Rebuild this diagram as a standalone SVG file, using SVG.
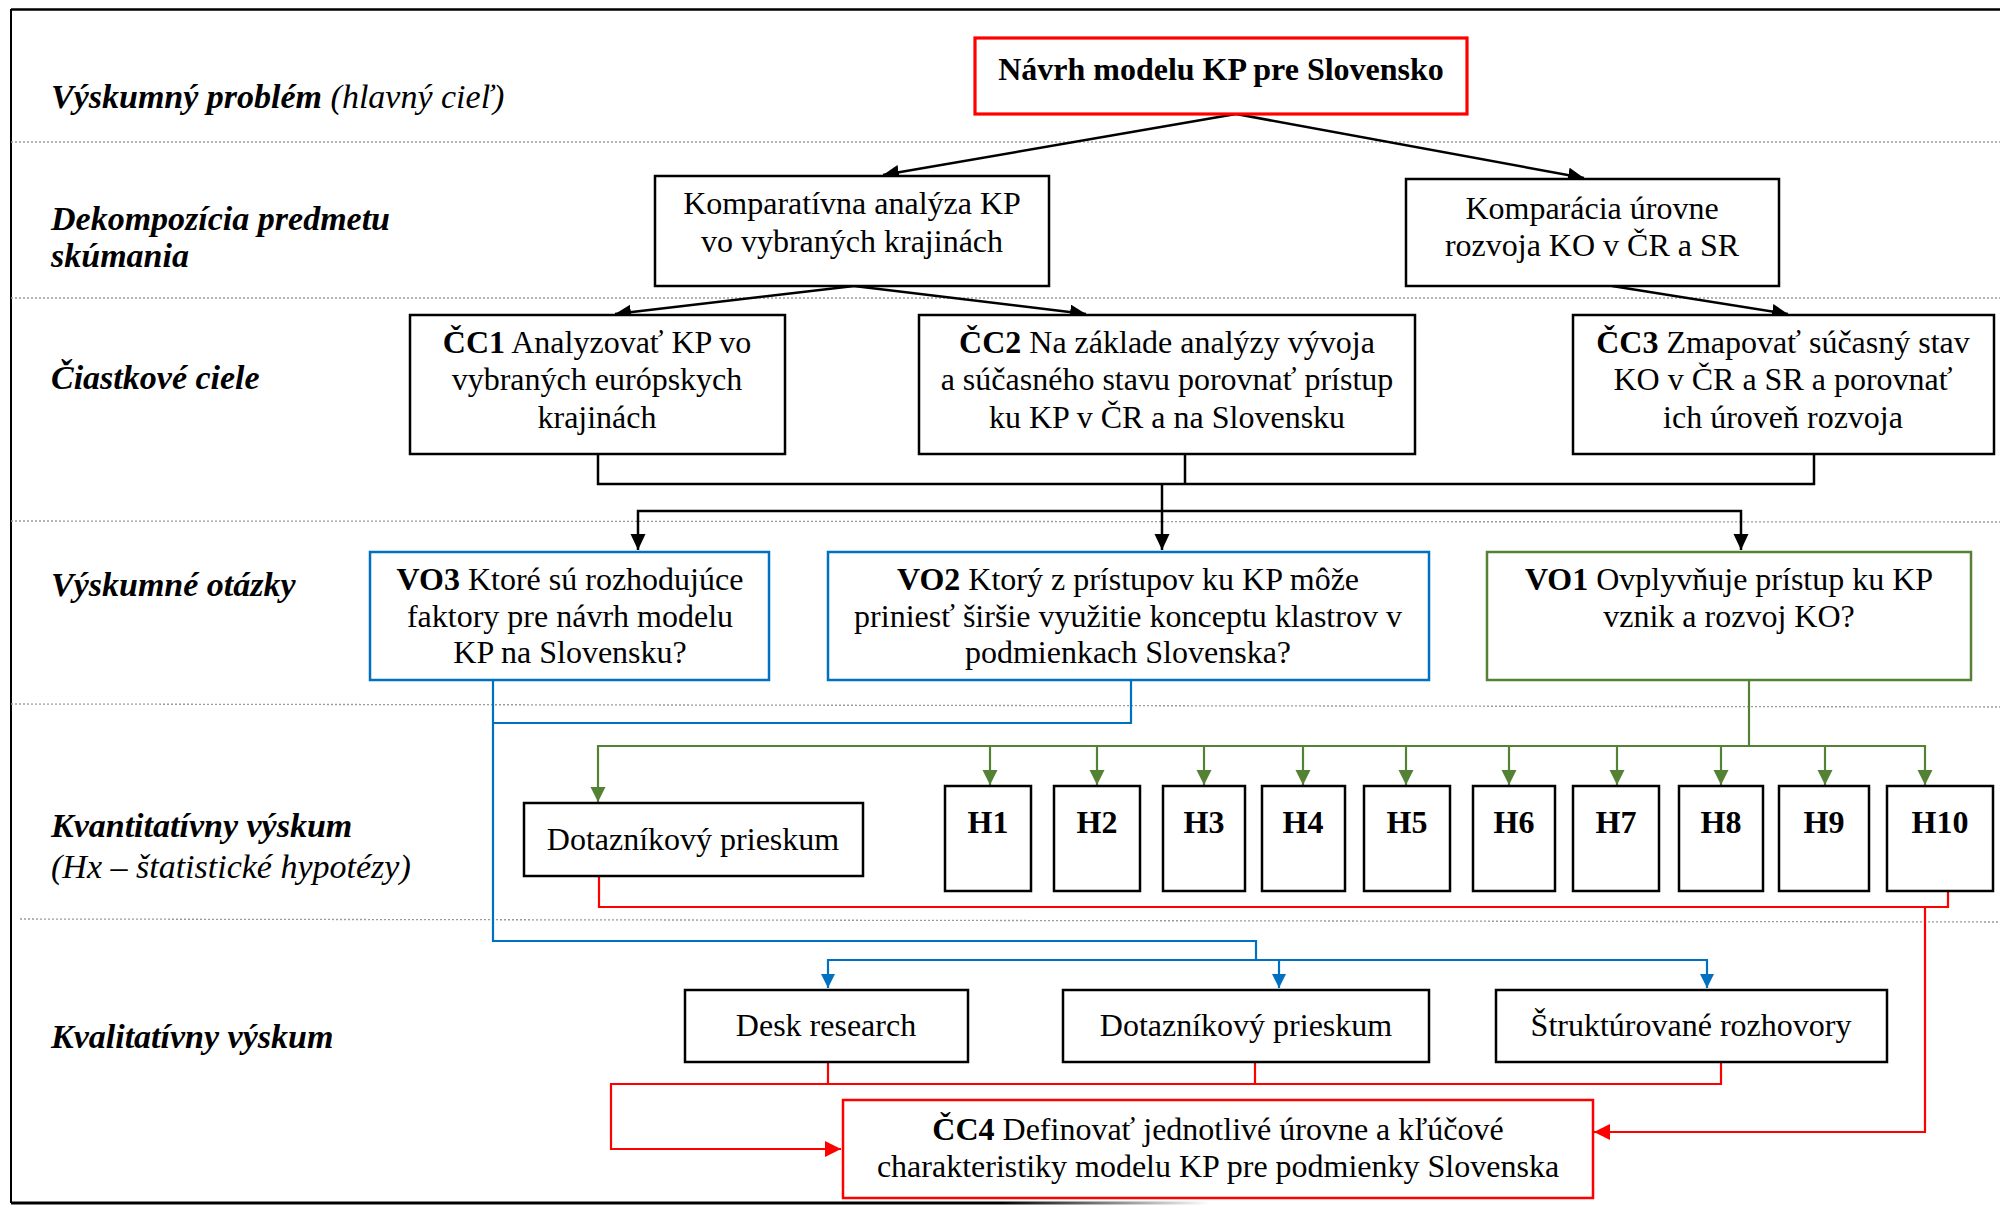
<svg xmlns="http://www.w3.org/2000/svg" width="2000" height="1207" viewBox="0 0 2000 1207">
<style>
text{font-family:"Liberation Serif","Times New Roman",serif;fill:#000}
.bt{font-size:32px;text-anchor:middle}
.lbl{font-size:34px;font-style:italic}
.b{font-weight:bold}
.box{fill:#fff;stroke:#000;stroke-width:2.5}
.rbox{fill:#fff;stroke:#FF0000;stroke-width:2.5}
.bbox{fill:#fff;stroke:#0070C0;stroke-width:2.5}
.gbox{fill:#fff;stroke:#548235;stroke-width:2.5}
.sep{stroke:#9a9a9a;stroke-width:1.3;stroke-dasharray:2 2;fill:none}
.k{stroke:#000;stroke-width:2.5;fill:none}
.bl{stroke:#0070C0;stroke-width:2.2;fill:none}
.gr{stroke:#548235;stroke-width:2.2;fill:none}
.rd{stroke:#FF0000;stroke-width:2.2;fill:none}
</style>
<defs>
<marker id="ak" markerUnits="userSpaceOnUse" markerWidth="18" markerHeight="16" refX="16" refY="7.5" orient="auto"><path d="M0,0 L16,7.5 L0,15 Z" fill="#000"/></marker>
<marker id="ab" markerUnits="userSpaceOnUse" markerWidth="16" markerHeight="16" refX="14" refY="7" orient="auto"><path d="M0,0 L14,7 L0,14 Z" fill="#0070C0"/></marker>
<marker id="ag" markerUnits="userSpaceOnUse" markerWidth="18" markerHeight="16" refX="15" refY="7.5" orient="auto"><path d="M0,0 L15,7.5 L0,15 Z" fill="#548235"/></marker>
<marker id="ar" markerUnits="userSpaceOnUse" markerWidth="18" markerHeight="18" refX="16" refY="8" orient="auto"><path d="M0,0 L16,8 L0,16 Z" fill="#FF0000"/></marker>
<linearGradient id="fade" gradientUnits="userSpaceOnUse" x1="1000" y1="0" x2="1210" y2="0"><stop offset="0" stop-color="#000"/><stop offset="1" stop-color="#000" stop-opacity="0"/></linearGradient>
</defs>
<rect width="2000" height="1207" fill="#fff"/>
<g id="frame">
<line x1="11" y1="9.5" x2="2000" y2="9.5" stroke="#000" stroke-width="2.5"/>
<line x1="11" y1="9" x2="11" y2="1203" stroke="#000" stroke-width="2"/>
<line x1="11" y1="1203" x2="1210" y2="1203" stroke="url(#fade)" stroke-width="3"/>
<line class="sep" x1="11" y1="142" x2="2000" y2="142"/>
<line class="sep" x1="11" y1="298" x2="2000" y2="298"/>
<line class="sep" x1="11" y1="521" x2="2000" y2="522"/>
<line class="sep" x1="11" y1="704" x2="2000" y2="707"/>
<line class="sep" x1="20" y1="919" x2="2000" y2="922"/>
</g>
<g id="labels">
<text class="lbl" x="51" y="108"><tspan class="b">Výskumný problém</tspan> (hlavný cieľ)</text>
<text class="lbl b" x="51" y="230">Dekompozícia predmetu</text>
<text class="lbl b" x="51" y="267">skúmania</text>
<text class="lbl b" x="51" y="389">Čiastkové ciele</text>
<text class="lbl b" x="51" y="596">Výskumné otázky</text>
<text class="lbl b" x="51" y="837">Kvantitatívny výskum</text>
<text class="lbl" x="51" y="878">(Hx – štatistické hypotézy)</text>
<text class="lbl b" x="51" y="1048">Kvalitatívny výskum</text>
</g>
<g id="connectors">
<line class="k" x1="1236" y1="114" x2="883" y2="175" marker-end="url(#ak)"/>
<line class="k" x1="1236" y1="114" x2="1584" y2="178" marker-end="url(#ak)"/>
<line class="k" x1="854" y1="286" x2="615" y2="314" marker-end="url(#ak)"/>
<line class="k" x1="854" y1="286" x2="1086" y2="314" marker-end="url(#ak)"/>
<line class="k" x1="1612" y1="286" x2="1788" y2="314" marker-end="url(#ak)"/>
<path class="k" d="M598,454 V484 H1814 V454 M1185,454 V484"/>
<path class="k" d="M1162,484 V550" marker-end="url(#ak)"/>
<path class="k" d="M1162,511 H638 V550" marker-end="url(#ak)"/>
<path class="k" d="M1162,511 H1741 V550" marker-end="url(#ak)"/>
<path class="bl" d="M1131,680 V723 H493"/>
<path class="bl" d="M493,680 V941 H1256 V960"/>
<path class="bl" d="M1256,960 H828 V988" marker-end="url(#ab)"/>
<path class="bl" d="M1279,960 V988" marker-end="url(#ab)"/>
<path class="bl" d="M1256,960 H1707 V988" marker-end="url(#ab)"/>
<path class="gr" d="M1749,680 V746"/>
<path class="gr" d="M1749,746 H598 V802" marker-end="url(#ag)"/>
<path class="gr" d="M1749,746 H1925 V785" marker-end="url(#ag)"/>
<path class="gr" d="M990,746 V785" marker-end="url(#ag)"/>
<path class="gr" d="M1097,746 V785" marker-end="url(#ag)"/>
<path class="gr" d="M1204,746 V785" marker-end="url(#ag)"/>
<path class="gr" d="M1303,746 V785" marker-end="url(#ag)"/>
<path class="gr" d="M1406,746 V785" marker-end="url(#ag)"/>
<path class="gr" d="M1509,746 V785" marker-end="url(#ag)"/>
<path class="gr" d="M1617,746 V785" marker-end="url(#ag)"/>
<path class="gr" d="M1721,746 V785" marker-end="url(#ag)"/>
<path class="gr" d="M1825,746 V785" marker-end="url(#ag)"/>
<path class="rd" d="M599,876 V907 H1948 V891"/>
<path class="rd" d="M1925,907 V1132 H1594" marker-end="url(#ar)"/>
<path class="rd" d="M828,1062 V1084 M1255,1062 V1084 M1721,1062 V1084 H611 V1149 H841" marker-end="url(#ar)"/>
</g>
<g id="n-title">
<rect x="975" y="38" width="492" height="76" fill="#fff" stroke="#FF0000" stroke-width="3.2"/>
<text class="bt b" x="1221" y="80">Návrh modelu KP pre Slovensko</text>
</g>
<g id="n-komparativna">
<rect class="box" x="655" y="176" width="394" height="110"/>
<text class="bt" x="852" y="214">Komparatívna analýza KP</text>
<text class="bt" x="852" y="252">vo vybraných krajinách</text>
</g>
<g id="n-komparacia">
<rect class="box" x="1406" y="179" width="373" height="107"/>
<text class="bt" x="1592" y="219">Komparácia úrovne</text>
<text class="bt" x="1592" y="256">rozvoja KO v ČR a SR</text>
</g>
<g id="n-cc1">
<rect class="box" x="410" y="315" width="375" height="139"/>
<text class="bt" x="597" y="353"><tspan class="b">ČC1</tspan> Analyzovať KP vo</text>
<text class="bt" x="597" y="390">vybraných európskych</text>
<text class="bt" x="597" y="428">krajinách</text>
</g>
<g id="n-cc2">
<rect class="box" x="919" y="315" width="496" height="139"/>
<text class="bt" x="1167" y="353"><tspan class="b">ČC2</tspan> Na základe analýzy vývoja</text>
<text class="bt" x="1167" y="390">a súčasného stavu porovnať prístup</text>
<text class="bt" x="1167" y="428">ku KP v ČR a na Slovensku</text>
</g>
<g id="n-cc3">
<rect class="box" x="1573" y="315" width="421" height="139"/>
<text class="bt" x="1783" y="353"><tspan class="b">ČC3</tspan> Zmapovať súčasný stav</text>
<text class="bt" x="1783" y="390">KO v ČR a SR a porovnať</text>
<text class="bt" x="1783" y="428">ich úroveň rozvoja</text>
</g>
<g id="n-vo3">
<rect class="bbox" x="370" y="552" width="399" height="128"/>
<text class="bt" x="570" y="590"><tspan class="b">VO3</tspan> Ktoré sú rozhodujúce</text>
<text class="bt" x="570" y="627">faktory pre návrh modelu</text>
<text class="bt" x="570" y="663">KP na Slovensku?</text>
</g>
<g id="n-vo2">
<rect class="bbox" x="828" y="552" width="601" height="128"/>
<text class="bt" x="1128" y="590"><tspan class="b">VO2</tspan> Ktorý z prístupov ku KP môže</text>
<text class="bt" x="1128" y="627">priniesť širšie využitie konceptu klastrov v</text>
<text class="bt" x="1128" y="663">podmienkach Slovenska?</text>
</g>
<g id="n-vo1">
<rect class="gbox" x="1487" y="552" width="484" height="128"/>
<text class="bt" x="1729" y="590"><tspan class="b">VO1</tspan> Ovplyvňuje prístup ku KP</text>
<text class="bt" x="1729" y="627">vznik a rozvoj KO?</text>
</g>
<g id="n-dotaz-kvant">
<rect class="box" x="524" y="803" width="339" height="73"/>
<text class="bt" x="693" y="850">Dotazníkový prieskum</text>
</g>
<g id="n-h1"><rect class="box" x="945" y="786" width="86" height="105"/><text class="bt b" x="988" y="833">H1</text></g>
<g id="n-h2"><rect class="box" x="1054" y="786" width="86" height="105"/><text class="bt b" x="1097" y="833">H2</text></g>
<g id="n-h3"><rect class="box" x="1163" y="786" width="82" height="105"/><text class="bt b" x="1204" y="833">H3</text></g>
<g id="n-h4"><rect class="box" x="1262" y="786" width="83" height="105"/><text class="bt b" x="1303" y="833">H4</text></g>
<g id="n-h5"><rect class="box" x="1364" y="786" width="86" height="105"/><text class="bt b" x="1407" y="833">H5</text></g>
<g id="n-h6"><rect class="box" x="1473" y="786" width="82" height="105"/><text class="bt b" x="1514" y="833">H6</text></g>
<g id="n-h7"><rect class="box" x="1573" y="786" width="86" height="105"/><text class="bt b" x="1616" y="833">H7</text></g>
<g id="n-h8"><rect class="box" x="1679" y="786" width="84" height="105"/><text class="bt b" x="1721" y="833">H8</text></g>
<g id="n-h9"><rect class="box" x="1779" y="786" width="90" height="105"/><text class="bt b" x="1824" y="833">H9</text></g>
<g id="n-h10"><rect class="box" x="1887" y="786" width="106" height="105"/><text class="bt b" x="1940" y="833">H10</text></g>
<g id="n-desk">
<rect class="box" x="685" y="990" width="283" height="72"/>
<text class="bt" x="826" y="1036">Desk research</text>
</g>
<g id="n-dotaz-kval">
<rect class="box" x="1063" y="990" width="366" height="72"/>
<text class="bt" x="1246" y="1036">Dotazníkový prieskum</text>
</g>
<g id="n-strukt">
<rect class="box" x="1496" y="990" width="391" height="72"/>
<text class="bt" x="1691" y="1036">Štruktúrované rozhovory</text>
</g>
<g id="n-cc4">
<rect class="rbox" x="843" y="1100" width="750" height="98"/>
<text class="bt" x="1218" y="1140"><tspan class="b">ČC4</tspan> Definovať jednotlivé úrovne a kľúčové</text>
<text class="bt" x="1218" y="1177">charakteristiky modelu KP pre podmienky Slovenska</text>
</g>
</svg>
